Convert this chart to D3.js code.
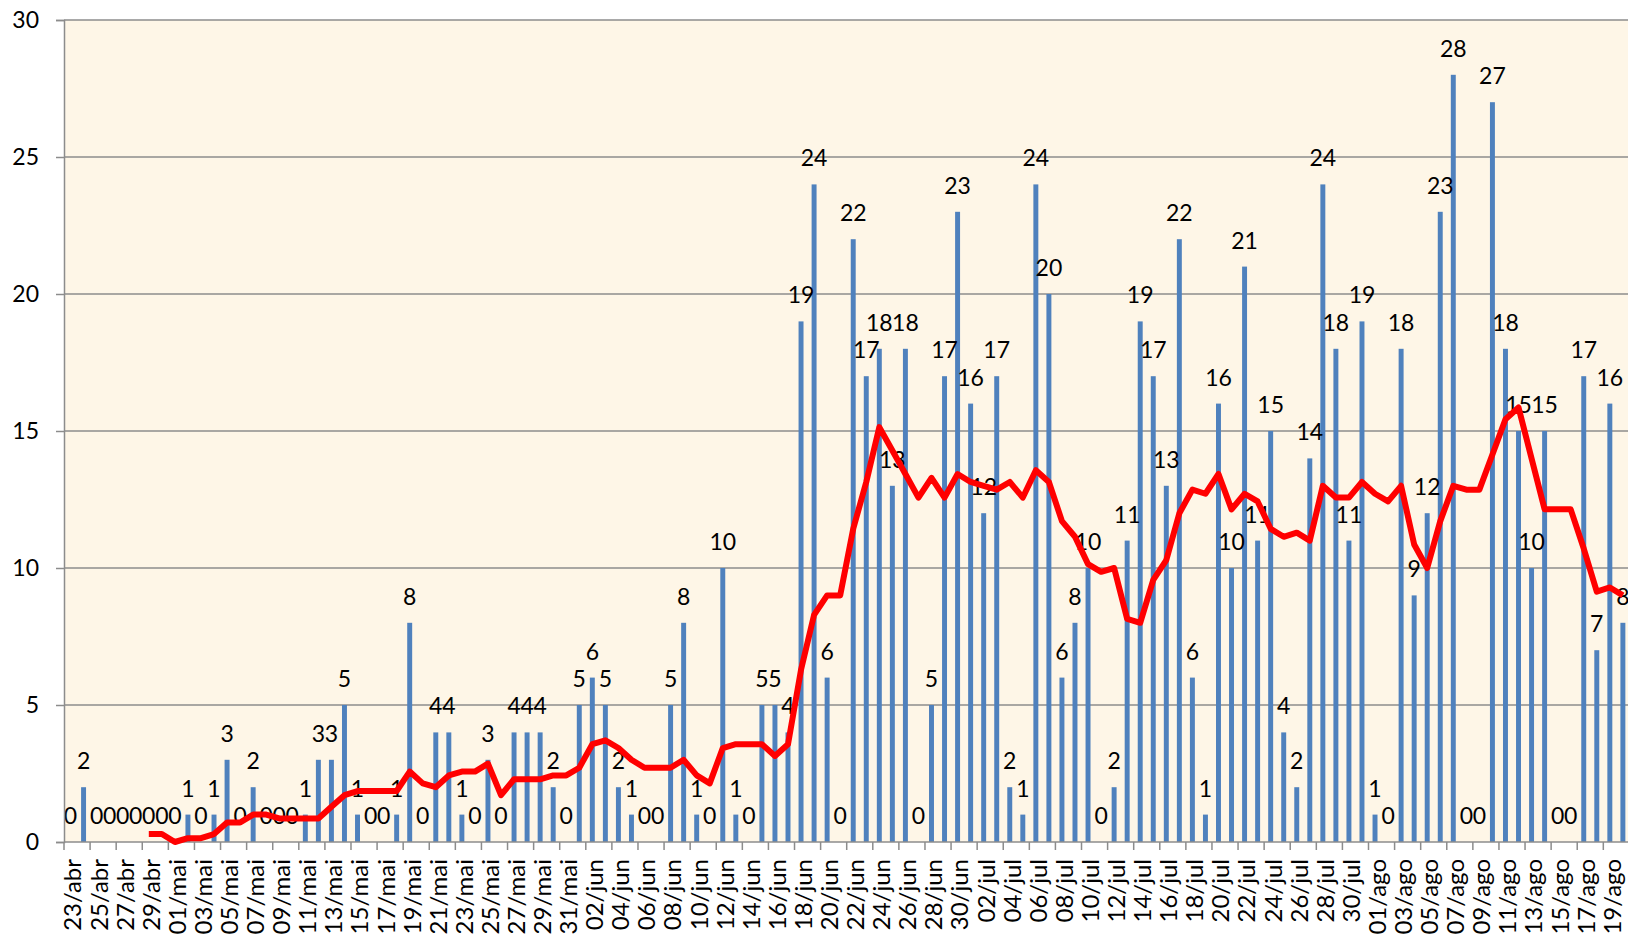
<!DOCTYPE html>
<html>
<head>
<meta charset="utf-8">
<script src="https://cdn.jsdelivr.net/npm/d3@7"></script>
<style>
  body { margin: 0; background: #fff; }
  svg { display: block; font-family: Lato, "Open Sans", sans-serif; }
</style>
</head>
<body>
<svg width="1628" height="936"></svg>
<script>
// daily counts, 23/abr .. 20/ago
var firstDay = new Date(2020, 3, 23),
    lastDay = new Date(2020, 7, 21);
var monthNames = ["jan", "fev", "mar", "abr", "mai", "jun", "jul", "ago", "set", "out", "nov", "dez"];
var days = d3.timeDay.range(firstDay, lastDay);
var categories = days.map(function(d) {
    return d3.timeFormat("%d")(d) + "/" + monthNames[d.getMonth()];
});

var values = [
    0, 2, 0, 0, 0, 0, 0, 0, 0, 1, 0, 1, 3, 0, 2, 0, 0, 0, 1, 3,
    3, 5, 1, 0, 0, 1, 8, 0, 4, 4, 1, 0, 3, 0, 4, 4, 4, 2, 0, 5,
    6, 5, 2, 1, 0, 0, 5, 8, 1, 0, 10, 1, 0, 5, 5, 4, 19, 24, 6, 0,
    22, 17, 18, 13, 18, 0, 5, 17, 23, 16, 12, 17, 2, 1, 24, 20, 6, 8, 10, 0,
    2, 11, 19, 17, 13, 22, 6, 1, 16, 10, 21, 11, 15, 4, 2, 14, 24, 18, 11, 19,
    1, 0, 18, 9, 12, 23, 28, 0, 0, 27, 18, 15, 10, 15, 0, 0, 17, 7, 16, 8
];

// red line (weekly mean)
var trend = [
    null, null, null, null, null, null, 0.29, 0.29, 0, 0.14,
    0.14, 0.29, 0.71, 0.71, 1.0, 1.0, 0.86, 0.86, 0.86, 0.86,
    1.29, 1.71, 1.86, 1.86, 1.86, 1.86, 2.57, 2.14, 2.0, 2.43,
    2.57, 2.57, 2.86, 1.71, 2.29, 2.29, 2.29, 2.43, 2.43, 2.71,
    3.57, 3.71, 3.43, 3.0, 2.71, 2.71, 2.71, 3.0, 2.43, 2.14,
    3.43, 3.57, 3.57, 3.57, 3.14, 3.57, 6.29, 8.29, 9.0, 9.0,
    11.43, 13.14, 15.14, 14.29, 13.43, 12.57, 13.29, 12.57, 13.43, 13.14,
    13.0, 12.86, 13.14, 12.57, 13.57, 13.14, 11.71, 11.14, 10.14, 9.86,
    10.0, 8.14, 8.0, 9.57, 10.29, 12.0, 12.86, 12.71, 13.43, 12.14,
    12.71, 12.43, 11.43, 11.14, 11.29, 11.0, 13.0, 12.57, 12.57, 13.14,
    12.71, 12.43, 13.0, 10.86, 10.0, 11.71, 13.0, 12.86, 12.86, 14.14,
    15.43, 15.86, 14.0, 12.14, 12.14, 12.14, 10.71, 9.14, 9.29, 9.0
];

var yTicks = [0, 5, 10, 15, 20, 25, 30];

var data = categories.map(function(c, i) {
    return {cat: c, value: values[i], avg: trend[i]};
});

var plotLeft = 64, plotTop = 20, plotBottom = 842,
    plotRight = plotLeft + 120 * 13.045,
    fullWidth = 1628;

var svg = d3.select("svg");

var x = d3.scaleBand()
    .domain(categories)
    .range([plotLeft, plotRight])
    .paddingInner(0.62)
    .paddingOuter(0.31);

var y = d3.scaleLinear()
    .domain([0, 30])
    .range([plotBottom, plotTop]);

var step = x.step();
function center(c) { return x(c) + x.bandwidth() / 2; }

// plot background
svg.append("rect")
    .attr("x", plotLeft)
    .attr("y", plotTop)
    .attr("width", fullWidth - plotLeft)
    .attr("height", plotBottom - plotTop)
    .attr("fill", "#fef6e7");

// gridlines
svg.append("g")
    .selectAll("line")
    .data(yTicks.slice(1))
    .enter().append("line")
    .attr("x1", plotLeft)
    .attr("x2", fullWidth)
    .attr("y1", function(d) { return y(d); })
    .attr("y2", function(d) { return y(d); })
    .attr("stroke", "#8c8c8c")
    .attr("stroke-width", 1.5);

// bars
svg.append("g")
    .selectAll("rect")
    .data(data)
    .enter().append("rect")
    .attr("x", function(d) { return x(d.cat); })
    .attr("y", function(d) { return y(d.value); })
    .attr("width", x.bandwidth())
    .attr("height", function(d) { return plotBottom - y(d.value); })
    .attr("fill", "#4f81bd");

// data labels
svg.append("g")
    .selectAll("text")
    .data(data)
    .enter().append("text")
    .attr("x", function(d) { return center(d.cat); })
    .attr("y", function(d) { return y(d.value) - 18; })
    .attr("text-anchor", "middle")
    .style("font-size", "23px")
    .attr("fill", "#000")
    .text(function(d) { return d.value; });

// y axis
var yAxis = svg.append("g")
    .attr("transform", "translate(" + plotLeft + ",0)")
    .call(d3.axisLeft(y).tickValues(yTicks).tickSize(8).tickPadding(17));
yAxis.select(".domain").attr("stroke", "#8c8c8c").attr("stroke-width", 1.5);
yAxis.selectAll(".tick line").attr("stroke", "#8c8c8c").attr("stroke-width", 1.5);
yAxis.selectAll("text")
    .style("font-size", "23px")
    .style("font-family", "Lato, sans-serif")
    .attr("fill", "#000");

// x axis: ticks every two days, between categories
var evenCats = categories.filter(function(c, i) { return i % 2 === 0; });
var xAxis = svg.append("g")
    .attr("transform", "translate(0," + plotBottom + ")")
    .call(d3.axisBottom(x).tickValues(evenCats).tickSize(0));
xAxis.select(".domain").remove();
xAxis.append("line")
    .attr("x1", plotLeft).attr("x2", fullWidth)
    .attr("stroke", "#8c8c8c").attr("stroke-width", 1.5);
xAxis.selectAll(".sep")
    .data(evenCats)
    .enter().append("line")
    .attr("class", "sep")
    .attr("x1", function(d) { return center(d) - step / 2; })
    .attr("x2", function(d) { return center(d) - step / 2; })
    .attr("y1", 0)
    .attr("y2", 8)
    .attr("stroke", "#8c8c8c")
    .attr("stroke-width", 1.5);
xAxis.selectAll(".tick text")
    .attr("transform", "rotate(-90)")
    .attr("text-anchor", "end")
    .attr("x", -17)
    .attr("y", 2.5)
    .attr("dy", "0.35em")
    .style("font-size", "24px")
    .style("font-family", "Lato, sans-serif")
    .attr("fill", "#000");

// trend line on top
var line = d3.line()
    .defined(function(d) { return d.avg !== null; })
    .x(function(d) { return center(d.cat); })
    .y(function(d) { return y(d.avg); });

svg.append("path")
    .datum(data)
    .attr("d", line)
    .attr("fill", "none")
    .attr("stroke", "#ff0000")
    .attr("stroke-width", 6)
    .attr("stroke-linejoin", "round");
</script>
</body>
</html>
